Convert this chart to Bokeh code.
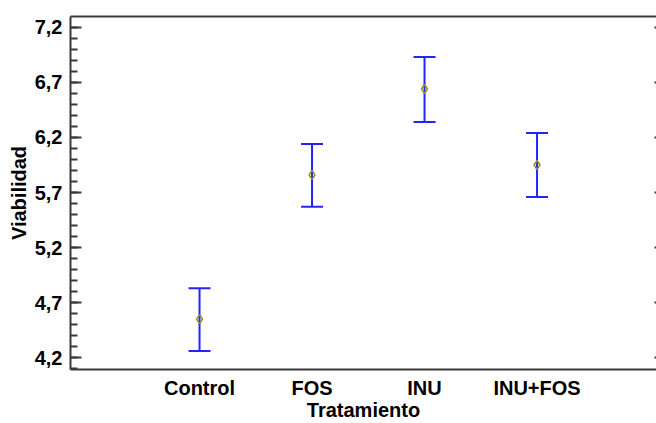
from bokeh.plotting import figure
from bokeh.models import (ColumnDataSource, Whisker, TeeHead, Range1d, FixedTicker,
                          LinearAxis)
from bokeh.embed import file_html
from bokeh.resources import INLINE

# ---- data ----
categories = ["Control", "FOS", "INU", "INU+FOS"]
means = [4.55, 5.86, 6.64, 5.95]
lower = [4.26, 5.57, 6.34, 5.66]
upper = [4.83, 6.14, 6.93, 6.24]

y_major_ticks = [4.2, 4.7, 5.2, 5.7, 6.2, 6.7, 7.2]
y_tick_labels = ["4,2", "4,7", "5,2", "5,7", "6,2", "6,7", "7,2"]
y_minor_ticks = [4.1, 4.2, 4.3, 4.4, 4.5, 4.6, 4.7, 4.8, 4.9, 5.0, 5.1, 5.2, 5.3,
                 5.4, 5.5, 5.6, 5.7, 5.8, 5.9, 6.0, 6.1, 6.2, 6.3, 6.4, 6.5, 6.6,
                 6.7, 6.8, 6.9, 7.0, 7.1, 7.2]

x_pos = [i + 1 for i in range(len(categories))]

src = ColumnDataSource(dict(x=x_pos, mean=means, lower=lower, upper=upper))

FONT = "Liberation Sans"
AXIS_COLOR = "#3a3a3a"
BLUE = "#2424ff"

p = figure(width=656, height=423, output_backend="svg", toolbar_location=None,
           x_range=Range1d(-0.147, 5.062), y_range=Range1d(4.092, 7.299),
           x_axis_label="Tratamiento", y_axis_label="Viabilidad",
           min_border_left=70, min_border_right=0, min_border_top=16,
           min_border_bottom=52)
p.xgrid.visible = False
p.ygrid.visible = False
p.outline_line_color = None
p.background_fill_color = "white"
p.border_fill_color = "white"

# whiskers
w = Whisker(source=src, base="x", upper="upper", lower="lower",
            line_color=BLUE, line_width=2,
            upper_head=TeeHead(size=22, line_color=BLUE, line_width=2),
            lower_head=TeeHead(size=22, line_color=BLUE, line_width=2))
p.add_layout(w)

p.scatter("x", "mean", source=src, marker="diamond", size=9,
          fill_color=None, line_color="#8f8f2a", line_width=1.5)

# x axis
xa = p.xaxis[0]
xa.ticker = FixedTicker(ticks=x_pos)
xa.major_label_overrides = {x: c for x, c in zip(x_pos, categories)}
xa.major_tick_line_color = None
xa.major_tick_in = 0
xa.major_tick_out = 0
xa.minor_tick_line_color = None
xa.minor_tick_in = 0
xa.minor_tick_out = 0
xa.axis_line_color = AXIS_COLOR
xa.axis_line_width = 2
xa.major_label_text_font = FONT
xa.major_label_text_font_style = "bold"
xa.major_label_text_font_size = "20px"
xa.major_label_text_color = "black"
xa.major_label_standoff = 7
xa.axis_label_text_font = FONT
xa.axis_label_text_font_style = "bold"
xa.axis_label_text_font_size = "20px"
xa.axis_label_text_color = "black"
xa.axis_label_standoff = -3

# y axis
ya = p.yaxis[0]
ya.ticker = FixedTicker(ticks=y_major_ticks, minor_ticks=y_minor_ticks)
ya.major_label_overrides = {t: l for t, l in zip(y_major_ticks, y_tick_labels)}
ya.axis_line_color = AXIS_COLOR
ya.axis_line_width = 2
ya.major_tick_line_color = AXIS_COLOR
ya.major_tick_line_width = 2
ya.major_tick_in = 11
ya.major_tick_out = 0
ya.minor_tick_line_color = AXIS_COLOR
ya.minor_tick_line_width = 2
ya.minor_tick_in = 7
ya.minor_tick_out = 0
ya.major_label_text_font = FONT
ya.major_label_text_font_style = "bold"
ya.major_label_text_font_size = "20px"
ya.major_label_text_color = "black"
ya.major_label_standoff = 8
ya.axis_label_text_font = FONT
ya.axis_label_text_font_style = "bold"
ya.axis_label_text_font_size = "20px"
ya.axis_label_text_color = "black"
ya.axis_label_standoff = 2

# top border line (as an axis without ticks)
top = LinearAxis(ticker=FixedTicker(ticks=[]), axis_line_color=AXIS_COLOR,
                 axis_line_width=2, major_tick_line_color=None,
                 major_tick_in=0, major_tick_out=0,
                 minor_tick_line_color=None, minor_tick_in=0, minor_tick_out=0,
                 major_label_standoff=0)
p.add_layout(top, "above")

# right-side tick stubs
right = LinearAxis(ticker=FixedTicker(ticks=y_major_ticks, minor_ticks=[]),
                   axis_line_color=None, major_tick_line_color=AXIS_COLOR,
                   major_tick_line_width=2, major_tick_in=2, major_tick_out=0,
                   minor_tick_line_color=None, minor_tick_in=0, minor_tick_out=0,
                   major_label_standoff=0,
                   major_label_overrides={t: "" for t in y_major_ticks})
p.add_layout(right, "right")

open("out.html", "w").write(file_html(p, INLINE))
